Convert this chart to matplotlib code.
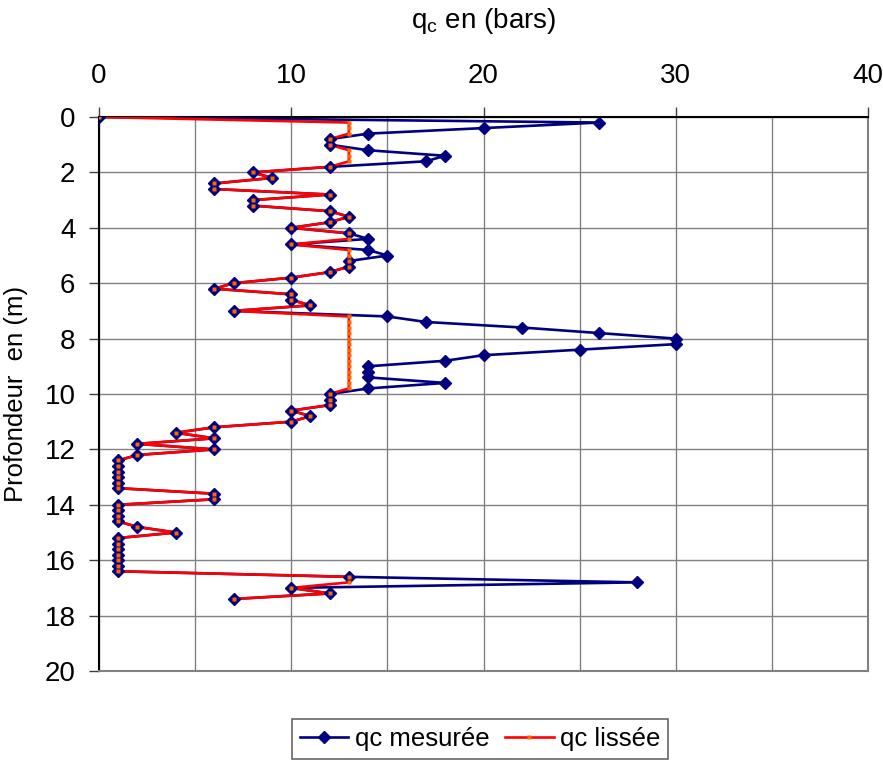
import numpy as np
import matplotlib
matplotlib.use('Agg')
import matplotlib.pyplot as plt
from matplotlib.ticker import MultipleLocator

plt.rcParams['font.family'] = ['Liberation Sans', 'DejaVu Sans']
plt.rcParams['mathtext.default'] = 'regular'

# depth (m), every 0.2 m
profondeur = [0.0, 0.2, 0.4, 0.6, 0.8, 1.0, 1.2, 1.4, 1.6, 1.8,
              2.0, 2.2, 2.4, 2.6, 2.8, 3.0, 3.2, 3.4, 3.6, 3.8,
              4.0, 4.2, 4.4, 4.6, 4.8, 5.0, 5.2, 5.4, 5.6, 5.8,
              6.0, 6.2, 6.4, 6.6, 6.8, 7.0, 7.2, 7.4, 7.6, 7.8,
              8.0, 8.2, 8.4, 8.6, 8.8, 9.0, 9.2, 9.4, 9.6, 9.8,
              10.0, 10.2, 10.4, 10.6, 10.8, 11.0, 11.2, 11.4, 11.6, 11.8,
              12.0, 12.2, 12.4, 12.6, 12.8, 13.0, 13.2, 13.4, 13.6, 13.8,
              14.0, 14.2, 14.4, 14.6, 14.8, 15.0, 15.2, 15.4, 15.6, 15.8,
              16.0, 16.2, 16.4, 16.6, 16.8, 17.0, 17.2, 17.4]

qc_mesuree = [0, 26, 20, 14, 12, 12, 14, 18, 17, 12,
              8, 9, 6, 6, 12, 8, 8, 12, 13, 12,
              10, 13, 14, 10, 14, 15, 13, 13, 12, 10,
              7, 6, 10, 10, 11, 7, 15, 17, 22, 26,
              30, 30, 25, 20, 18, 14, 14, 14, 18, 14,
              12, 12, 12, 10, 11, 10, 6, 4, 6, 2,
              6, 2, 1, 1, 1, 1, 1, 1, 6, 6,
              1, 1, 1, 1, 2, 4, 1, 1, 1, 1,
              1, 1, 1, 13, 28, 10, 12, 7]

qc_lissee = [0, 13, 13, 13, 12, 12, 13, 13, 13, 12,
             8, 9, 6, 6, 12, 8, 8, 12, 13, 12,
             10, 13, 13, 10, 13, 13, 13, 13, 12, 10,
             7, 6, 10, 10, 11, 7, 13, 13, 13, 13,
             13, 13, 13, 13, 13, 13, 13, 13, 13, 13,
             12, 12, 12, 10, 11, 10, 6, 4, 6, 2,
             6, 2, 1, 1, 1, 1, 1, 1, 6, 6,
             1, 1, 1, 1, 2, 4, 1, 1, 1, 1,
             1, 1, 1, 13, 13, 10, 12, 7]

profondeur = np.array(profondeur)
qc_mesuree = np.array(qc_mesuree)
qc_lissee = np.array(qc_lissee)

fig = plt.figure(figsize=(8.83, 7.64), dpi=100)
ax = fig.add_axes([99/883, 1-671/764, (868-99)/883, (671-117)/764])

ax.plot(qc_mesuree, profondeur, color='#000080', lw=1.9, zorder=3)
ax.plot(qc_lissee, profondeur, color='#FF0000', lw=1.9, zorder=4)
ax.plot(qc_mesuree, profondeur, ls='none', marker='D', ms=6,
        color='#000080', zorder=5)
ax.plot(qc_lissee, profondeur, ls='none', marker='s', ms=3.5,
        color='#FF6600', mec='none', zorder=6)

ax.set_xlim(0, 40)
ax.set_ylim(20, 0)
ax.xaxis.set_major_locator(MultipleLocator(10))
ax.xaxis.set_minor_locator(MultipleLocator(5))
ax.yaxis.set_major_locator(MultipleLocator(2))
ax.xaxis.tick_top()
ax.tick_params(axis='x', which='major', direction='out', length=7, width=1,
               color='#404040', labelsize=20, pad=13)
ax.tick_params(axis='x', which='minor', length=0)
ax.tick_params(axis='y', direction='out', length=7, width=1,
               color='#404040', labelsize=20, pad=10)
ax.grid(True, which='both', color='#808080', lw=1)
ax.set_axisbelow(True)

for s in ['left', 'top']:
    ax.spines[s].set_color('#000000')
    ax.spines[s].set_linewidth(1.5)
for s in ['right', 'bottom']:
    ax.spines[s].set_color('#808080')
    ax.spines[s].set_linewidth(1.5)

fig.text(483.5/883, 1-21/764, r'q$_{c}$ en (bars)', ha='center', va='center',
         fontsize=20)
fig.text(16/883, 1-394/764, 'Profondeur  en (m)', ha='center', va='center',
         rotation=90, fontsize=18.5)

h1, = ax.plot([], [], color='#000080', lw=1.9, marker='D', ms=6)
h2, = ax.plot([], [], color='#FF0000', lw=1.9, marker='s', ms=3.5,
              mfc='#FF6600', mec='none')
leg = fig.legend([h1, h2], ['qc mesurée', 'qc lissée'], loc='center',
                 bbox_to_anchor=(480/883, 1-739/764), ncol=2, fontsize=18.5,
                 frameon=True, fancybox=False, edgecolor='#404040',
                 handlelength=1.9, handletextpad=0.25, columnspacing=0.6,
                 borderpad=0.3, borderaxespad=0)
leg.get_frame().set_linewidth(1.2)

fig.savefig('out.png', dpi=100)
